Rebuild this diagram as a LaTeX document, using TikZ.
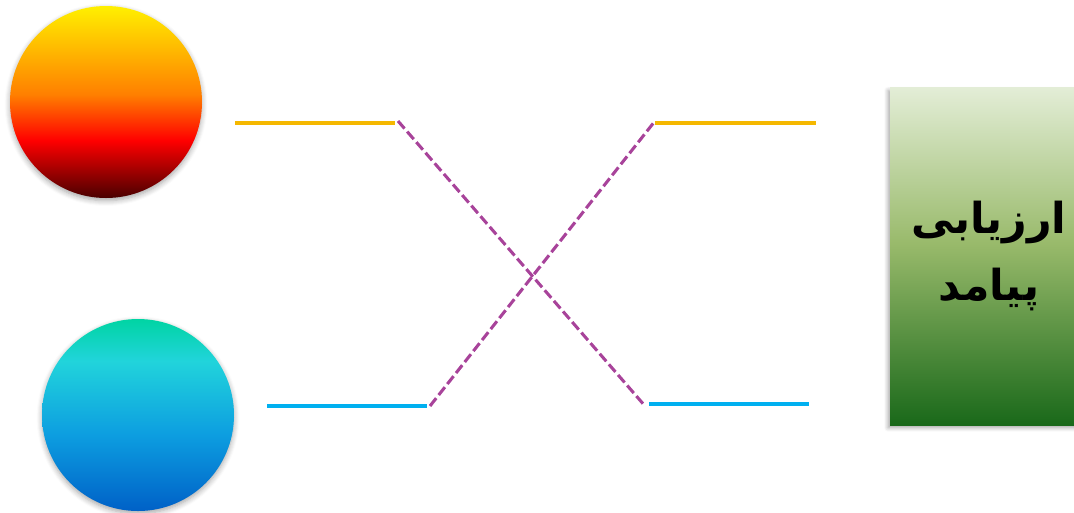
\documentclass[tikz,border=0pt]{standalone}
\usepackage{fontspec}
\newfontfamily\persianfont[Script=Arabic]{DejaVu Sans}
\TeXXeTstate=1
\usepackage{tikz}
\usetikzlibrary{shadows.blur}
\definecolor{LineOrange}{RGB}{245, 184, 0}
\definecolor{LineBlue}{RGB}{0, 176, 240}
\definecolor{CrossPurple}{RGB}{168, 67, 154}
\pgfdeclareverticalshading{sunball}{100bp}{rgb(0bp)=(0.29,0,0); rgb(25bp)=(0.29,0,0);
  rgb(40bp)=(1,0,0); rgb(52bp)=(1,0.5,0); rgb(75bp)=(1,0.94,0); rgb(100bp)=(1,0.94,0)}
\pgfdeclareverticalshading{seaball}{100bp}{rgb(0bp)=(0,0.38,0.78); rgb(25bp)=(0,0.38,0.78);
  rgb(45bp)=(0.05,0.62,0.88); rgb(64bp)=(0.13,0.83,0.86); rgb(75bp)=(0,0.83,0.64); rgb(100bp)=(0,0.83,0.64)}
\pgfdeclareverticalshading{meadow}{100bp}{rgb(0bp)=(0.1,0.41,0.1); rgb(25bp)=(0.1,0.41,0.1);
  rgb(52bp)=(0.6,0.73,0.42); rgb(75bp)=(0.89,0.93,0.84); rgb(100bp)=(0.89,0.93,0.84)}

\begin{document}
\begin{tikzpicture}[
        x=0.75pt, y=-0.75pt,
        ball/.style={circle, minimum size=144pt, inner sep=0pt,
                     blur shadow={shadow xshift=0pt, shadow yshift=-2pt, shadow blur radius=4pt,
                                  shadow opacity=35, shadow blur steps=6}},
        result/.style={rectangle, minimum width=150pt, minimum height=253pt, inner sep=0pt,
                       shading=meadow,
                       blur shadow={shadow xshift=-1.5pt, shadow yshift=-2pt, shadow blur radius=3pt,
                                    shadow opacity=35, shadow blur steps=6}},
        caption/.style={font=\persianfont\bfseries\fontsize{32}{50}\selectfont, align=center},
        link/.style={line width=2.6pt},
        cross/.style={line width=2.3pt, CrossPurple, dash pattern=on 7.5pt off 3pt}
    ]
        \useasboundingbox (0,0) rectangle (1074,512);

        \node[ball, shading=sunball] (sun) at (106,102) {};
        \node[ball, shading=seaball] (sea) at (138,415) {};
        \node[result] (outcome) at (990,256.5) {};
        \node[caption] (label) at (989,256) {\beginR ارزیابی\endR\\\beginR پیامد\endR};

        % left and right stubs
        \coordinate (sunA) at (235,123);
        \coordinate (sunB) at (395,123);
        \coordinate (seaA) at (267,406);
        \coordinate (seaB) at (427,406);
        \coordinate (topA) at (655,123);
        \coordinate (topB) at (816,123);
        \coordinate (lowA) at (649,404);
        \coordinate (lowB) at (809,404);

        \draw[link, LineOrange] (sunA) -- (sunB);
        \draw[link, LineBlue] (seaA) -- (seaB);
        \draw[link, LineOrange] (topA) -- (topB);
        \draw[link, LineBlue] (lowA) -- (lowB);

        % crossing
        \draw[cross] (398,121) coordinate (xa) -- (645,406) coordinate (xb);
        \draw[cross] (430,406) coordinate (xc) -- (655,121) coordinate (xd);
    \end{tikzpicture}
\end{document}
